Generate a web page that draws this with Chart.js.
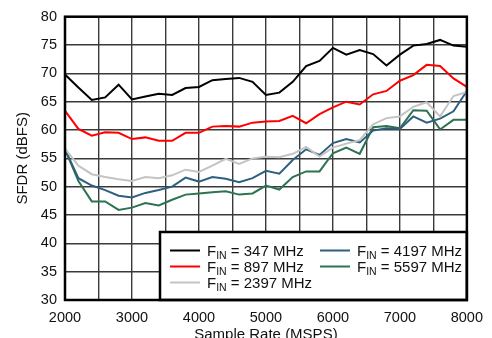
<!DOCTYPE html>
<html>
<head>
<meta charset="utf-8">
<script src="https://cdn.jsdelivr.net/npm/chart.js@4/dist/chart.umd.min.js"></script>
<style>
html,body{margin:0;padding:0;background:#fff;overflow:hidden;}
#wrap{width:492px;height:338px;overflow:hidden;position:relative;}
canvas{display:block;}
</style>
</head>
<body>
<div id="wrap"><canvas id="c" width="492" height="346"></canvas></div>
<script>
const sampleRates = [2000,2200,2400,2600,2800,3000,3200,3400,3600,3800,4000,4200,4400,4600,4800,5000,5200,5400,5600,5800,6000,6200,6400,6600,6800,7000,7200,7400,7600,7800,8000];
const fin347  = [69.8,67.5,65.3,65.75,68.0,65.4,65.9,66.4,66.2,67.4,67.6,68.8,69.0,69.2,68.5,66.2,66.6,68.5,71.3,72.2,74.5,73.3,74.1,73.4,71.4,73.3,74.9,75.2,75.9,74.9,74.7];
const fin897  = [63.4,60.2,59.0,59.6,59.5,58.4,58.7,58.1,58.1,59.5,59.5,60.6,60.7,60.6,61.3,61.5,61.6,62.5,61.2,62.8,64.0,65.0,64.5,66.3,66.9,68.7,69.7,71.5,71.3,69.1,67.6];
const fin2397 = [56.7,53.7,52.2,51.7,51.3,51.0,51.7,51.5,52.0,53.0,52.6,53.7,54.9,54.0,55.0,55.3,55.2,55.8,57.0,55.3,56.9,57.6,58.2,61.0,62.1,62.4,64.1,64.9,62.4,66.0,66.7];
const fin4197 = [56.6,51.5,50.2,49.4,48.4,48.1,48.9,49.4,50.0,51.6,50.9,51.7,51.4,50.8,51.5,52.8,52.3,54.7,56.6,55.6,57.7,58.4,57.8,59.9,60.3,60.2,62.4,61.3,62.0,63.3,66.9];
const fin5597 = [56.6,51.0,47.4,47.4,45.9,46.3,47.1,46.7,47.7,48.6,48.8,49.0,49.2,48.6,48.8,50.2,49.5,51.7,52.7,52.7,55.9,56.9,55.8,60.5,60.7,60.3,63.5,63.4,60.1,61.8,61.8];
const seriesLabels = ['347 MHz','897 MHz','2397 MHz','4197 MHz','5597 MHz'];
const seriesColors = ['#000000','#ff0000','#c4c4c4','#2f5f7f','#2d7352'];
const xTickLabels = ['2000','3000','4000','5000','6000','7000','8000'];
const yTickLabels = ['30','35','40','45','50','55','60','65','70','75','80'];
const xTitle = 'Sample Rate (MSPS)';
const yTitle = 'SFDR (dBFS)';

const allSeries = [fin347, fin897, fin2397, fin4197, fin5597];
const datasets = allSeries.map((vals, i) => ({
  label: seriesLabels[i],
  data: sampleRates.map((x, j) => ({x: x, y: vals[j]})),
  borderColor: seriesColors[i],
  backgroundColor: seriesColors[i],
  borderWidth: 2,
  pointRadius: 0,
  tension: 0,
  fill: false,
  order: i
}));

const FONT = "Arial, 'Liberation Sans', sans-serif";

const legendPlugin = {
  id: 'customLegend',
  afterDatasetsDraw(chart) {
    const ctx = chart.ctx;
    const ca = chart.chartArea;
    ctx.save();
    const bx = 160, by = 232, bw = ca.right - bx, bh = ca.bottom - by;
    ctx.fillStyle = '#fff';
    ctx.fillRect(bx, by, bw, bh);
    ctx.strokeStyle = '#000';
    ctx.lineWidth = 2.5;
    ctx.strokeRect(bx, by, bw, bh);
    const cols = [{lx: 170, tx: 207}, {lx: 320, tx: 357}];
    const rows = [250.5, 266.5, 282.5];
    const layout = [[0,0],[0,1],[0,2],[1,0],[1,1]];
    layout.forEach((pos, i) => {
      const c = cols[pos[0]], y = rows[pos[1]];
      ctx.strokeStyle = seriesColors[i];
      ctx.lineWidth = 2;
      ctx.beginPath();
      ctx.moveTo(c.lx, y);
      ctx.lineTo(c.lx + 30, y);
      ctx.stroke();
      ctx.fillStyle = '#111';
      ctx.textBaseline = 'alphabetic';
      ctx.textAlign = 'left';
      ctx.font = '15px ' + FONT;
      const base = y + 5;
      let x = c.tx;
      ctx.fillText('F', x, base);
      x += ctx.measureText('F').width;
      ctx.font = '10.5px ' + FONT;
      ctx.fillText('IN', x, base + 3);
      x += ctx.measureText('IN').width;
      ctx.font = '15px ' + FONT;
      ctx.fillText(' = ' + seriesLabels[i], x, base);
    });
    ctx.strokeStyle = '#000';
    ctx.lineWidth = 2.5;
    ctx.strokeRect(ca.left, ca.top, ca.right - ca.left, ca.bottom - ca.top);
    ctx.restore();
  }
};

new Chart(document.getElementById('c'), {
  type: 'line',
  data: { datasets: datasets },
  options: {
    responsive: false,
    animation: false,
    events: [],
    layout: { padding: { left: 0, right: 20, top: 13, bottom: 0 } },
    plugins: { legend: { display: false }, tooltip: { enabled: false } },
    scales: {
      x: {
        type: 'linear',
        min: 2000, max: 8000,
        border: { display: false },
        grid: { color: '#3a3a3a', lineWidth: 1.4, drawTicks: false },
        ticks: {
          stepSize: 500,
          padding: 9,
          maxRotation: 0,
          autoSkip: false,
          color: '#111',
          font: { family: FONT, size: 14.5 },
          callback: (v) => { const s = String(v); return xTickLabels.includes(s) ? s : ''; }
        },
        title: { display: true, text: xTitle, color: '#111', font: { family: FONT, size: 15 }, padding: { top: 0, bottom: 2 } },
        afterFit: (s) => { s.height = 46; }
      },
      y: {
        min: 30, max: 80,
        border: { display: false },
        grid: { color: '#3a3a3a', lineWidth: 1.4, drawTicks: false },
        ticks: {
          stepSize: 5,
          padding: 8,
          color: '#111',
          font: { family: FONT, size: 14.5 },
          callback: (v) => { const s = String(v); return yTickLabels.includes(s) ? s : ''; }
        },
        title: { display: true, text: yTitle, color: '#111', font: { family: FONT, size: 15 }, padding: { top: 14, bottom: 0 } },
        afterFit: (s) => { s.width = 65; }
      }
    }
  },
  plugins: [legendPlugin]
});
</script>
</body>
</html>
